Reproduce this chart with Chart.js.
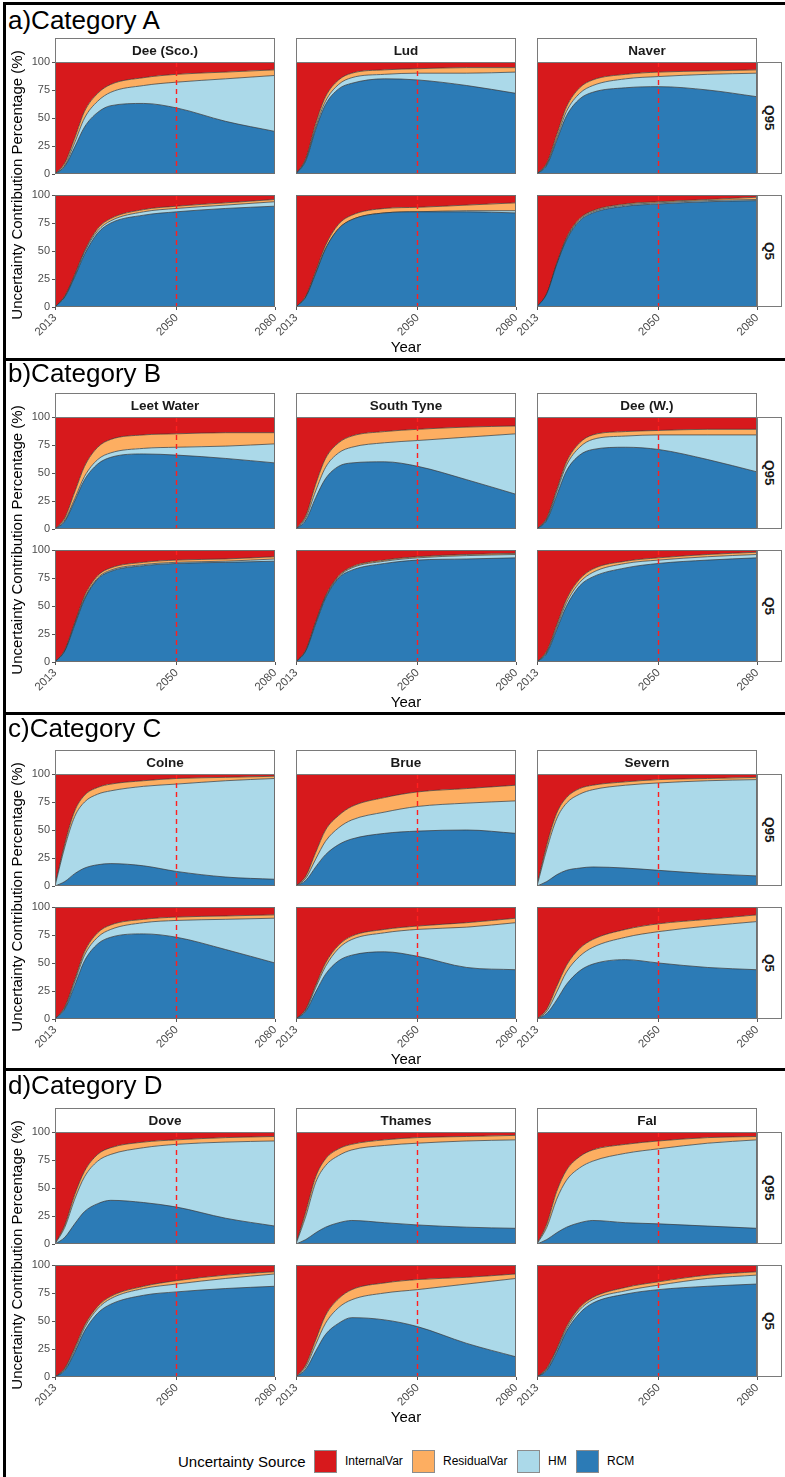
<!DOCTYPE html>
<html>
<head>
<meta charset="utf-8">
<script src="https://cdn.jsdelivr.net/npm/chart.js@4.4.1/dist/chart.umd.min.js"></script>
<style>
  body { margin: 0; background: #fff; }
  #fig { position: relative; width: 785px; height: 1477px; overflow: hidden; background: #fff;
         font-family: "Liberation Sans", Arial, Helvetica, sans-serif; color: #000; }
  .rule { position: absolute; background: #000; }
  .catTitle { position: absolute; left: 8px; font-size: 26px; line-height: 26px; white-space: nowrap; }
  .strip { position: absolute; box-sizing: border-box; border: 1px solid #7a7a7a; background: #fff;
           font-weight: bold; font-size: 13.5px; color: #1a1a1a; display: flex;
           align-items: center; justify-content: center; white-space: nowrap; }
  .stripR { writing-mode: vertical-rl; }
  .ytitle { position: absolute; width: 320px; height: 18px; line-height: 18px; font-size: 15px;
            text-align: center; transform: rotate(-90deg); white-space: nowrap; }
  .xtitle { position: absolute; width: 100px; font-size: 15px; line-height: 15px; text-align: center; }
  .panel { position: absolute; }
  #legend { position: absolute; left: 0; top: 1448px; width: 785px; height: 28px; }
  #legend .ltitle { position: absolute; left: 178px; top: 6px; font-size: 15px; line-height: 15px; white-space: nowrap; }
  #legend .sw { position: absolute; top: 2px; width: 23px; height: 23px; box-sizing: border-box; border: 1px solid #8c8c8c; }
  #legend .lab { position: absolute; top: 7px; font-size: 12px; line-height: 12px; white-space: nowrap; }
</style>
</head>
<body>
<div id="fig"></div>
<script>
const years = [2013, 2016, 2019, 2022, 2026, 2030, 2040, 2050, 2065, 2080];
const xTicks = [2013, 2050, 2080];
const yTicks = [0, 25, 50, 75, 100];
const refYear = 2050;

const sources = ["RCM", "HM", "ResidualVar", "InternalVar"];
const legendOrder = ["InternalVar", "ResidualVar", "HM", "RCM"];
const sourceColors = { InternalVar: "#d7191c", ResidualVar: "#fdae61", HM: "#abd9e9", RCM: "#2c7bb6" };

const categoryTitles = ["a)Category A", "b)Category B", "c)Category C", "d)Category D"];
const catchmentNames = [
  ["Dee (Sco.)", "Lud", "Naver"],
  ["Leet Water", "South Tyne", "Dee (W.)"],
  ["Colne", "Brue", "Severn"],
  ["Dove", "Thames", "Fal"]
];
const quantiles = ["Q95", "Q5"];

// Category A
const deeScoQ95 = { RCM: [0,7,24,42,55,61,63,59,47,38], HM: [0,1,4,8,10,12,16,23,38,50], ResidualVar: [0,2,4,6,7,7,7,7,6,5], InternalVar: [100,90,68,44,28,20,14,11,9,7] };
const ludQ95    = { RCM: [0,12,40,62,76,81,85,84,79,72], HM: [0,1,2,3,4,5,4,6,11,19], ResidualVar: [0,1,3,4,4,4,4,4,5,4], InternalVar: [100,86,55,31,16,10,7,6,5,5] };
const naverQ95  = { RCM: [0,8,30,52,67,73,77,78,75,69], HM: [0,1,2,4,5,6,8,9,14,21], ResidualVar: [0,1,3,4,5,5,4,4,3,3], InternalVar: [100,90,65,40,23,16,11,9,8,7] };
const deeScoQ5  = { RCM: [0,9,27,47,66,75,82,85,88,90], HM: [0,0,1,2,2,2,3,3,3,4], ResidualVar: [0,1,1,1,2,2,2,2,2,2], InternalVar: [100,90,71,50,30,21,13,10,7,4] };
const ludQ5     = { RCM: [0,9,30,52,70,78,84,85,85,84], HM: [0,0,0,0,0,0,0,0,1,2], ResidualVar: [0,1,2,3,4,4,4,4,5,7], InternalVar: [100,90,68,45,26,18,12,11,9,7] };
const naverQ5   = { RCM: [0,12,38,60,77,84,90,92,94,95], HM: [0,0,0,1,1,1,1,1,1,1], ResidualVar: [0,0,1,1,1,1,1,1,1,2], InternalVar: [100,88,61,38,21,14,8,6,4,2] };

// Category B
const leetQ95      = { RCM: [0,7,25,44,58,64,67,66,63,59], HM: [0,1,2,3,4,4,5,7,11,17], ResidualVar: [0,2,6,9,11,12,12,12,12,10], InternalVar: [100,90,67,44,27,20,16,15,14,14] };
const southTyneQ95 = { RCM: [0,8,28,45,56,59,60,56,44,31], HM: [0,2,6,10,12,14,17,23,38,54], ResidualVar: [0,2,6,8,9,10,10,10,9,7], InternalVar: [100,88,60,37,23,17,13,11,9,8] };
const deeWQ95      = { RCM: [0,8,30,52,66,71,73,71,62,51], HM: [0,1,3,5,7,9,10,13,22,33], ResidualVar: [0,1,2,3,4,4,4,4,5,5], InternalVar: [100,90,65,40,23,16,13,12,11,11] };
const leetQ5       = { RCM: [0,10,33,56,74,81,86,88,89,90], HM: [0,0,1,1,1,1,1,1,1,2], ResidualVar: [0,1,1,2,2,2,2,2,2,2], InternalVar: [100,89,65,41,23,16,11,9,8,6] };
const southTyneQ5  = { RCM: [0,10,34,57,75,82,88,91,92,93], HM: [0,0,1,1,1,2,2,2,3,3], ResidualVar: [0,1,1,1,1,1,1,1,1,1], InternalVar: [100,89,64,41,23,15,9,6,4,3] };
const deeWQ5       = { RCM: [0,8,29,50,68,76,84,88,91,93], HM: [0,1,2,3,3,4,4,3,3,3], ResidualVar: [0,1,2,3,3,3,2,2,2,2], InternalVar: [100,90,67,44,26,17,10,7,4,2] };

// Category C
const colneQ95  = { RCM: [0,4,11,16,19,20,18,13,8,6], HM: [0,31,51,59,63,65,71,78,86,90], ResidualVar: [0,3,5,6,6,6,5,5,3,2], InternalVar: [100,62,33,19,12,9,6,4,3,2] };
const brueQ95   = { RCM: [0,5,17,28,37,42,47,49,50,47], HM: [0,2,7,12,15,17,19,22,24,29], ResidualVar: [0,2,6,10,11,12,13,13,13,14], InternalVar: [100,91,70,50,37,29,21,16,13,10] };
const severnQ95 = { RCM: [0,4,10,14,16,17,16,14,11,9], HM: [0,29,50,60,66,69,74,78,83,86], ResidualVar: [0,4,5,5,5,4,3,3,2,2], InternalVar: [100,63,35,21,13,10,7,5,4,3] };
const colneQ5   = { RCM: [0,9,30,52,67,73,76,73,62,50], HM: [0,1,3,5,6,7,10,15,27,40], ResidualVar: [0,1,2,3,4,4,3,3,3,3], InternalVar: [100,89,65,40,23,16,11,9,8,7] };
const brueQ5    = { RCM: [0,7,24,40,52,57,60,56,46,44], HM: [0,1,4,7,11,14,17,24,36,42], ResidualVar: [0,1,2,3,3,3,3,3,4,4], InternalVar: [100,91,70,50,34,26,20,17,14,10] };
const severnQ5  = { RCM: [0,5,17,31,43,49,53,50,46,44], HM: [0,2,7,11,13,15,20,28,37,43], ResidualVar: [0,2,5,6,7,7,7,7,6,6], InternalVar: [100,91,71,52,37,29,20,15,11,7] };

// Category D
const doveQ95   = { RCM: [0,6,18,29,36,39,37,33,23,16], HM: [0,9,22,31,38,41,49,56,68,76], ResidualVar: [0,2,4,5,6,6,5,4,4,4], InternalVar: [100,83,56,35,20,14,9,7,5,4] };
const thamesQ95 = { RCM: [0,4,10,15,19,21,19,17,15,14], HM: [0,21,45,55,60,63,69,73,77,79], ResidualVar: [0,4,5,6,6,5,5,5,4,4], InternalVar: [100,71,40,24,15,11,7,5,4,3] };
const falQ95    = { RCM: [0,4,10,15,19,21,19,18,16,14], HM: [0,11,30,42,49,53,62,67,74,79], ResidualVar: [0,3,7,9,10,10,8,7,5,3], InternalVar: [100,82,53,34,22,16,11,8,5,4] };
const doveQ5    = { RCM: [0,6,22,41,57,65,73,76,79,81], HM: [0,1,2,3,4,5,6,7,9,11], ResidualVar: [0,1,2,2,2,2,2,3,3,2], InternalVar: [100,92,74,54,37,28,19,14,9,6] };
const thamesQ5  = { RCM: [0,7,23,38,48,53,51,45,30,18], HM: [0,2,6,10,14,16,24,33,53,70], ResidualVar: [0,2,4,7,8,9,9,9,6,4], InternalVar: [100,89,67,45,30,22,16,13,11,8] };
const falQ5     = { RCM: [0,6,22,41,57,66,74,78,81,83], HM: [0,1,2,2,3,3,3,4,7,8], ResidualVar: [0,1,1,2,2,2,3,3,3,3], InternalVar: [100,92,75,55,38,29,20,15,9,6] };

const panelGrid = [
  [[deeScoQ95, ludQ95, naverQ95], [deeScoQ5, ludQ5, naverQ5]],
  [[leetQ95, southTyneQ95, deeWQ95], [leetQ5, southTyneQ5, deeWQ5]],
  [[colneQ95, brueQ95, severnQ95], [colneQ5, brueQ5, severnQ5]],
  [[doveQ95, thamesQ95, falQ95], [doveQ5, thamesQ5, falQ5]]
];

// layout (px)
const fig = document.getElementById("fig");
const colLeft = [55, 296, 537];
const plotW = 220, plotH = 112, rowStep = 133, stripH = 24;
const catTop = [62, 417, 774, 1132];
const titleBaseline = [30, 383, 738, 1095];
const ruleY = [358, 712, 1068];
const padL = 40, padT = 8, padR = 8, padB = 40;
const fontFamily = '"Liberation Sans", Arial, sans-serif';

function addDiv(cls, styles, text) {
  const d = document.createElement("div");
  if (cls) d.className = cls;
  Object.assign(d.style, styles);
  if (text !== undefined) d.textContent = text;
  fig.appendChild(d);
  return d;
}

// frame lines
addDiv("rule", { left: "3px", top: "2px", width: "782px", height: "3px" });
addDiv("rule", { left: "3px", top: "2px", width: "3px", height: "1475px" });
ruleY.forEach(y => addDiv("rule", { left: "3px", top: y + "px", width: "782px", height: "3px" }));

const panelDecor = {
  id: "panelDecor",
  afterDatasetsDraw(chart) {
    const { ctx, chartArea: a, scales } = chart;
    const px = Math.round(scales.x.getPixelForValue(refYear)) + 0.5;
    ctx.save();
    ctx.strokeStyle = "#ff1f1f";
    ctx.lineWidth = 1.4;
    ctx.setLineDash([5, 4]);
    ctx.beginPath();
    ctx.moveTo(px, a.top);
    ctx.lineTo(px, a.bottom);
    ctx.stroke();
    ctx.setLineDash([]);
    ctx.strokeStyle = "#6e6e6e";
    ctx.lineWidth = 1;
    ctx.strokeRect(Math.round(a.left) + 0.5, Math.round(a.top) + 0.5,
                   Math.round(a.right - a.left) - 1, Math.round(a.bottom - a.top) - 1);
    ctx.restore();
  }
};

function makePanel(panel, left, top, showX, showY) {
  const canvas = document.createElement("canvas");
  canvas.className = "panel";
  const w = plotW + padL + padR, h = plotH + padT + padB;
  canvas.width = w; canvas.height = h;
  canvas.style.left = (left - padL) + "px";
  canvas.style.top = (top - padT) + "px";
  canvas.style.width = w + "px"; canvas.style.height = h + "px";
  fig.appendChild(canvas);

  new Chart(canvas, {
    type: "line",
    data: {
      datasets: sources.map((s, i) => ({
        label: s,
        data: years.map((yr, j) => ({ x: yr, y: panel[s][j] })),
        backgroundColor: sourceColors[s],
        borderColor: "#333333",
        borderWidth: 0.7,
        fill: i === 0 ? "origin" : "-1",
        pointRadius: 0,
        cubicInterpolationMode: "monotone"
      }))
    },
    options: {
      responsive: false,
      animation: false,
      devicePixelRatio: 1,
      layout: { padding: { top: padT, right: padR, left: 0, bottom: 0 } },
      plugins: { legend: { display: false }, tooltip: { enabled: false } },
      scales: {
        x: {
          type: "linear", min: 2013, max: 2080,
          afterBuildTicks: ax => { ax.ticks = xTicks.map(v => ({ value: v })); },
          afterFit: ax => { ax.height = padB; ax.paddingLeft = 0; ax.paddingRight = 0; },
          ticks: { display: showX, minRotation: 45, maxRotation: 45, autoSkip: false, padding: 1,
                   color: "#4d4d4d", font: { size: 11.5, family: fontFamily }, callback: v => String(v) },
          grid: { drawOnChartArea: false, drawTicks: showX, tickLength: 3, color: "#555" },
          border: { display: false }
        },
        y: {
          stacked: true, min: 0, max: 100,
          afterBuildTicks: ax => { ax.ticks = yTicks.map(v => ({ value: v })); },
          afterFit: ax => { ax.width = padL; ax.paddingTop = 0; ax.paddingBottom = 0; },
          ticks: { display: showY, padding: 2, color: "#4d4d4d", font: { size: 11, family: fontFamily } },
          grid: { drawOnChartArea: false, drawTicks: showY, tickLength: 3, color: "#555" },
          border: { display: false }
        }
      }
    },
    plugins: [panelDecor]
  });
}

categoryTitles.forEach((title, c) => {
  const t0 = catTop[c];
  panelGrid[c].forEach((row, r) => {
    row.forEach((panel, k) => {
      makePanel(panel, colLeft[k], t0 + r * rowStep, r === 1, k === 0);
    });
  });
  // title
  addDiv("catTitle", { top: (titleBaseline[c] - 23.5) + "px" }, title);
  // column strips
  catchmentNames[c].forEach((name, k) => {
    addDiv("strip", { left: colLeft[k] + "px", top: (t0 - stripH) + "px", width: plotW + "px", height: (stripH + 1) + "px" }, name);
  });
  // row strips
  quantiles.forEach((q, r) => {
    addDiv("strip stripR", { left: (colLeft[2] + plotW) + "px", top: (t0 + r * rowStep) + "px", width: "25px", height: plotH + "px" }, q);
  });
  // axis titles
  addDiv("ytitle", { left: (17 - 160) + "px", top: (t0 + 122.5 - 9) + "px" }, "Uncertainty Contribution Percentage (%)");
  addDiv("xtitle", { left: (406 - 50) + "px", top: (t0 + 245 + 46 - 13.6) + "px" }, "Year");
});

// legend
const legend = addDiv("", {}, undefined);
legend.id = "legend";
const lt = document.createElement("div"); lt.className = "ltitle"; lt.textContent = "Uncertainty Source"; legend.appendChild(lt);
const swX = [314, 412, 517, 576];
legendOrder.forEach((s, i) => {
  const sw = document.createElement("div"); sw.className = "sw";
  sw.style.left = swX[i] + "px"; sw.style.background = sourceColors[s];
  legend.appendChild(sw);
  const lab = document.createElement("div"); lab.className = "lab";
  lab.style.left = (swX[i] + 31) + "px"; lab.textContent = s;
  legend.appendChild(lab);
});
</script>
</body>
</html>
